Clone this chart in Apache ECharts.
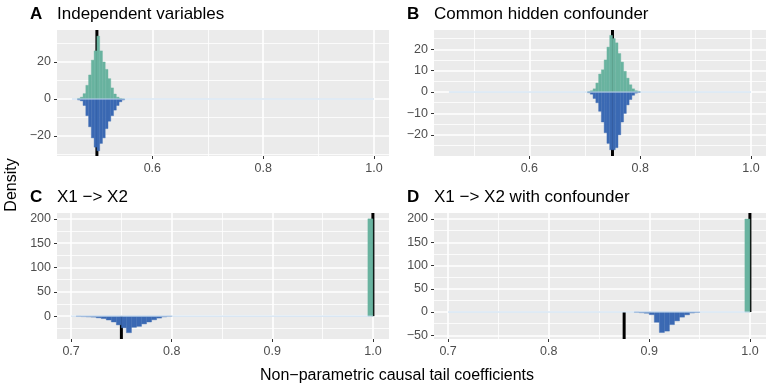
<!DOCTYPE html>
<html>
<head>
<meta charset="utf-8">
<script src="https://cdn.jsdelivr.net/npm/echarts@6/dist/echarts.min.js"></script>
<style>
  html, body { margin: 0; padding: 0; background: #fff; }
  #chart { width: 772px; height: 386px; }
</style>
</head>
<body>
<div id="chart"></div>
<script>
// histogram bin width (density units = 1 / binWidth for a single full bin)
const binWidth = 0.005;

const letters = ['A', 'B', 'C', 'D'];
const titles = ['Independent variables', 'Common hidden confounder', 'X1 \u2212> X2', 'X1 \u2212> X2 with confounder'];

// A: independent variables
const binsA = [0.465, 0.47, 0.475, 0.48, 0.485, 0.49, 0.495, 0.5, 0.505, 0.51, 0.515, 0.52, 0.525, 0.53, 0.535, 0.54, 0.545];
const greenA = [0.3, 1, 2.9, 7.4, 13, 21, 26, 34, 26, 20, 16, 11, 6, 2.7, 1, 0.3, 0];
const blueA = [0.5, 1, 3.5, 9, 15, 21, 26, 28, 24, 21, 16, 12, 9, 6, 3.5, 1.5, 0.5];

// B: common hidden confounder
const binsB = [0.705, 0.71, 0.715, 0.72, 0.725, 0.73, 0.735, 0.74, 0.745, 0.75, 0.755, 0.76, 0.765, 0.77, 0.775, 0.78, 0.785, 0.79, 0.795];
const greenB = [0.2, 0.6, 1.5, 4.2, 8.4, 10.4, 15, 21, 26.5, 25, 23, 18, 14, 9.7, 6.5, 3.4, 1.5, 0.6, 0.3];
const blueB = [0.3, 1, 3, 5, 9, 14, 19, 24, 27, 27, 26, 20, 14, 10, 6, 3.5, 1.5, 0.5, 0.2];

// C: X1 -> X2
const binsC = [0.705, 0.71, 0.715, 0.72, 0.725, 0.73, 0.735, 0.74, 0.745, 0.75, 0.755, 0.76, 0.765, 0.77, 0.775, 0.78, 0.785, 0.79, 0.795];
const blueC = [0.5, 1, 1.5, 2, 3.5, 5, 8, 12, 18, 24, 34, 23, 21, 16, 12, 7.5, 4, 1.5, 0.5];
const binsGreenC = [0.995];
const greenC = [200];

// D: X1 -> X2 with confounder
const binsD = [0.885, 0.89, 0.895, 0.9, 0.905, 0.91, 0.915, 0.92, 0.925, 0.93, 0.935, 0.94, 0.945];
const blueD = [0.5, 1.5, 2.5, 5.7, 22, 44, 41, 27, 19, 11, 6, 2, 1];
const binsGreenD = [0.995];
const greenD = [200];

// true coefficient values (black lines), upper = green, lower = blue
const trueGreen = [0.5, 0.75, 1.0, 1.0];
const trueBlue = [0.5, 0.75, 0.75, 0.875];

// zero baseline extent
const baseFrom = [0.455, 0.455, 0.7, 0.7];
const baseTo = [1.0, 1.0, 1.0, 1.0];

// axis ticks
const xMajorTop = [0.6, 0.8, 1.0];
const xMinorTop = [0.5, 0.7, 0.9];
const xMajorBottom = [0.7, 0.8, 0.9, 1.0];
const xMinorBottom = [0.75, 0.85, 0.95];
const yMajor = [[-20, 0, 20], [-20, -10, 0, 10, 20], [0, 50, 100, 150, 200], [-50, 0, 50, 100, 150, 200]];
const yMinor = [[-30, -10, 10, 30], [-25, -15, -5, 5, 15, 25], [-25, 25, 75, 125, 175], [-25, 25, 75, 125, 175]];

const green = '#69b3a0';
const blue = '#3b69b3';
const font = '"Liberation Sans", Arial, sans-serif';

const panels = [
  { left: 57, top: 30, xMin: 0.428, xMax: 1.027, yMin: -30.8, yMax: 37.3, xMaj: xMajorTop, xMin2: xMinorTop,
    green: binsA.map((b, i) => [b, greenA[i]]), blue: binsA.map((b, i) => [b, -blueA[i]]) },
  { left: 434, top: 30, xMin: 0.428, xMax: 1.027, yMin: -29.9, yMax: 29, xMaj: xMajorTop, xMin2: xMinorTop,
    green: binsB.map((b, i) => [b, greenB[i]]), blue: binsB.map((b, i) => [b, -blueB[i]]) },
  { left: 57, top: 213, xMin: 0.686, xMax: 1.016, yMin: -47, yMax: 212, xMaj: xMajorBottom, xMin2: xMinorBottom,
    green: binsGreenC.map((b, i) => [b, greenC[i]]), blue: binsC.map((b, i) => [b, -blueC[i]]) },
  { left: 434, top: 213, xMin: 0.686, xMax: 1.016, yMin: -58, yMax: 213, xMaj: xMajorBottom, xMin2: xMinorBottom,
    green: binsGreenD.map((b, i) => [b, greenD[i]]), blue: binsD.map((b, i) => [b, -blueD[i]]) }
];

function minusSign(v) {
  return String(v).replace('-', '\u2212');
}

function barItem(params, api) {
  const x0 = api.value(0);
  const h = api.value(1);
  const a = api.coord([x0, 0]);
  const b = api.coord([x0 + binWidth, h]);
  const c = api.visual('color');
  return {
    type: 'rect',
    shape: { x: a[0], y: Math.min(a[1], b[1]), width: b[0] - a[0], height: Math.abs(b[1] - a[1]) },
    style: { fill: c, stroke: c, lineWidth: 0.4 }
  };
}

function vlineItem(params, api) {
  const cs = params.coordSys;
  const p = api.coord([api.value(0), 0]);
  const yEnd = api.value(1) > 0 ? cs.y : cs.y + cs.height;
  return {
    type: 'line',
    shape: { x1: p[0], y1: p[1], x2: p[0], y2: yEnd },
    style: { stroke: '#000', lineWidth: 3 }
  };
}

const grids = [], xAxes = [], yAxes = [], series = [], graphics = [];

panels.forEach((p, i) => {
  grids.push({ left: p.left, top: p.top, width: 332, height: 126, show: true, backgroundColor: '#ebebeb', borderWidth: 0 });

  // minor grid lines first (drawn under the major ones)
  xAxes.push({
    type: 'value', gridIndex: i, min: p.xMin, max: p.xMax, position: 'bottom',
    axisLine: { show: false, onZero: false },
    axisTick: { show: true, length: 0, lineStyle: { color: 'rgba(0,0,0,0)' }, customValues: p.xMin2 },
    axisLabel: { show: false, customValues: p.xMin2 },
    splitLine: { show: true, lineStyle: { color: '#fff', width: 0.8 } }
  });
  xAxes.push({
    type: 'value', gridIndex: i, min: p.xMin, max: p.xMax, position: 'bottom',
    axisLine: { show: false, onZero: false },
    axisTick: { show: true, length: 3, lineStyle: { color: '#333' }, customValues: p.xMaj },
    axisLabel: { customValues: p.xMaj, formatter: v => v.toFixed(1), color: '#4d4d4d', fontSize: 12.5, fontFamily: font, margin: 6 },
    splitLine: { show: true, lineStyle: { color: '#fff', width: 1.6 } }
  });
  yAxes.push({
    type: 'value', gridIndex: i, min: p.yMin, max: p.yMax, position: 'left',
    axisLine: { show: false, onZero: false },
    axisTick: { show: true, length: 0, lineStyle: { color: 'rgba(0,0,0,0)' }, customValues: yMinor[i] },
    axisLabel: { show: false, customValues: yMinor[i] },
    splitLine: { show: true, lineStyle: { color: '#fff', width: 0.8 } }
  });
  yAxes.push({
    type: 'value', gridIndex: i, min: p.yMin, max: p.yMax, position: 'left',
    axisLine: { show: false, onZero: false },
    axisTick: { show: true, length: 3, lineStyle: { color: '#333' }, customValues: yMajor[i] },
    axisLabel: { customValues: yMajor[i], formatter: minusSign, color: '#4d4d4d', fontSize: 12.5, fontFamily: font, margin: 6 },
    splitLine: { show: true, lineStyle: { color: '#fff', width: 1.6 } }
  });

  const xi = 2 * i + 1, yi = 2 * i + 1;
  series.push({
    type: 'custom', xAxisIndex: xi, yAxisIndex: yi, renderItem: vlineItem,
    data: [[trueGreen[i], 1], [trueBlue[i], -1]], encode: { x: 0, y: 1 }, silent: true
  });
  series.push({
    type: 'line', xAxisIndex: xi, yAxisIndex: yi, symbol: 'none', silent: true,
    data: [[baseFrom[i], 0], [baseTo[i], 0]], lineStyle: { color: '#c6dbef', width: 1 }
  });
  series.push({
    type: 'custom', xAxisIndex: xi, yAxisIndex: yi, renderItem: barItem, itemStyle: { color: green },
    data: p.green, encode: { x: 0, y: 1 }
  });
  series.push({
    type: 'custom', xAxisIndex: xi, yAxisIndex: yi, renderItem: barItem, itemStyle: { color: blue },
    data: p.blue, encode: { x: 0, y: 1 }
  });

  graphics.push({
    type: 'text', x: p.left - 27, y: p.top - 16,
    style: { text: letters[i], fontSize: 17, fontWeight: 'bold', fontFamily: font, fill: '#000', verticalAlign: 'middle' }
  });
  graphics.push({
    type: 'text', x: p.left, y: p.top - 16,
    style: { text: titles[i], fontSize: 17, fontFamily: font, fill: '#000', verticalAlign: 'middle' }
  });
});

graphics.push({
  type: 'text', x: 12, y: 185, rotation: Math.PI / 2,
  style: { text: 'Density', fontSize: 16, fontFamily: font, fill: '#000', align: 'center', verticalAlign: 'middle' }
});
graphics.push({
  type: 'text', x: 397, y: 376,
  style: { text: 'Non\u2212parametric causal tail coefficients', fontSize: 16, fontFamily: font, fill: '#000', align: 'center', verticalAlign: 'middle' }
});

const chart = echarts.init(document.getElementById('chart'));
chart.setOption({
  animation: false,
  backgroundColor: '#fff',
  grid: grids,
  xAxis: xAxes,
  yAxis: yAxes,
  series: series,
  graphic: graphics
});
</script>
</body>
</html>
